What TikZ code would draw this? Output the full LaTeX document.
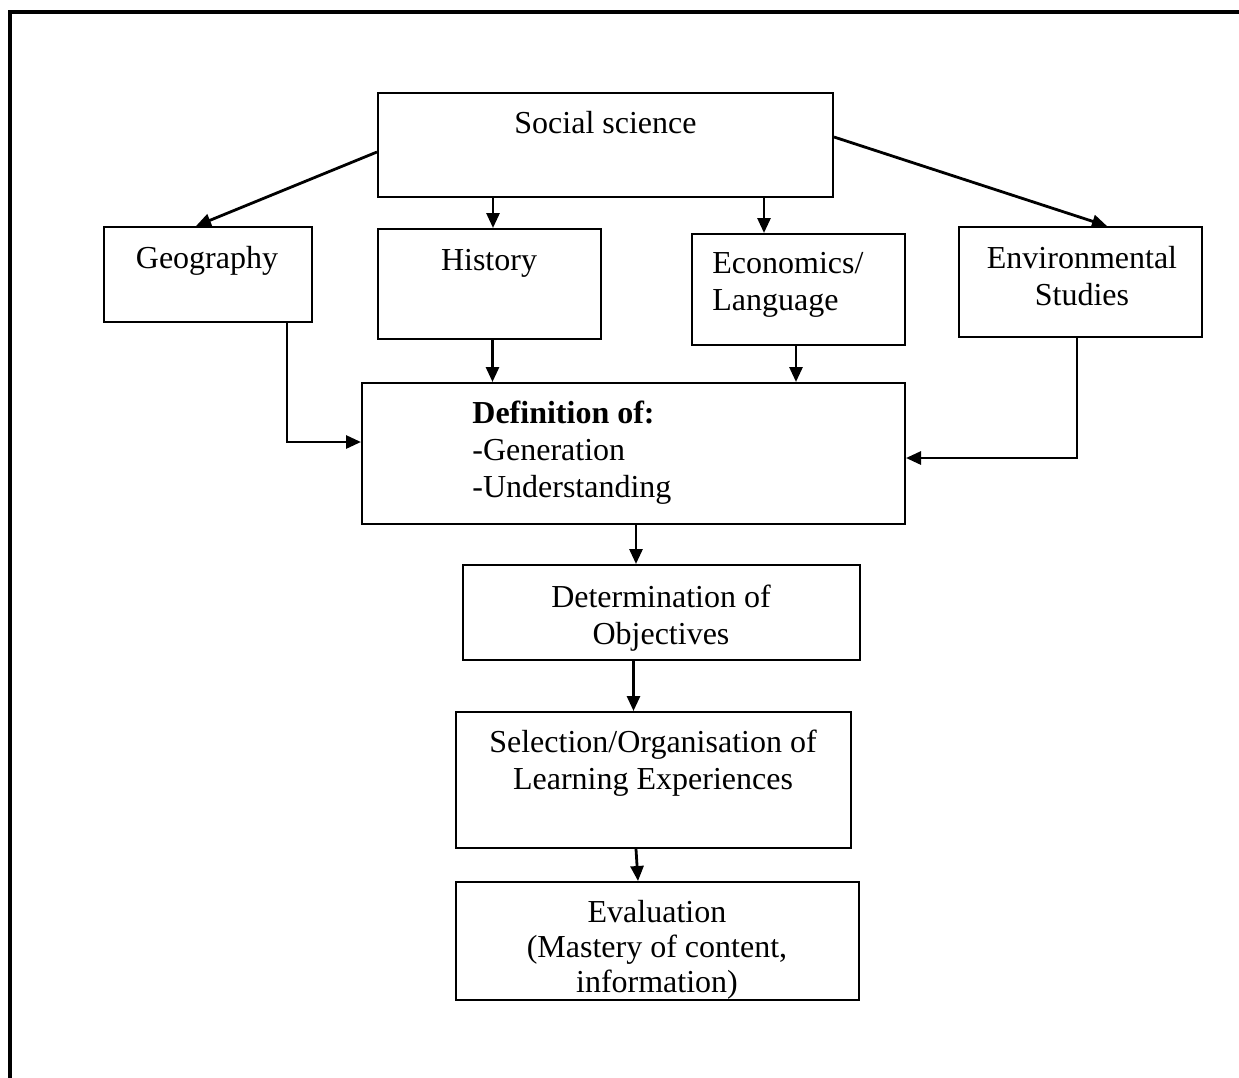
\documentclass[tikz,border=0pt]{standalone}
\usepackage{fontspec}
\setmainfont{Liberation Serif}
\usetikzlibrary{arrows.meta}
\begin{document}
\begin{tikzpicture}[x=0.5pt,y=-0.5pt,
  box/.style={draw,line width=1pt,inner sep=0pt,rectangle},
  txt/.style={inner sep=0pt,anchor=base,font=\fontsize{16}{18}\selectfont},
  ltxt/.style={inner sep=0pt,anchor=base west,font=\fontsize{16}{18}\selectfont},
  arr/.style={line width=1.4pt,-{Triangle[length=7.5pt,width=6.5pt]}},
  frame/.style={line width=2pt}]
\useasboundingbox (0,0) rectangle (1239,1078);
% outer frame (left and top sides only)
\coordinate (fbl) at (9.5,1078);
\coordinate (ftl) at (9.5,12);
\coordinate (ftr) at (1239,12);
\draw[frame] (fbl) -- (ftl) -- (ftr);
% boxes
\node[box,minimum width=227.5pt,minimum height=52pt] (soc) at (605.5,145) {};
\node[box,minimum width=104pt,minimum height=47.5pt] (geo) at (208,274.5) {};
\node[box,minimum width=111.5pt,minimum height=55pt] (his) at (489.5,284) {};
\node[box,minimum width=106.5pt,minimum height=55.5pt] (eco) at (798.5,289.5) {};
\node[box,minimum width=121.5pt,minimum height=55pt] (env) at (1080.5,282) {};
\node[box,minimum width=271.5pt,minimum height=70.5pt] (def) at (633.5,453.5) {};
\node[box,minimum width=198.5pt,minimum height=47.5pt] (det) at (661.5,612.5) {};
\node[box,minimum width=197.5pt,minimum height=68pt] (sel) at (653.5,780) {};
\node[box,minimum width=201.5pt,minimum height=59pt] (eva) at (657.5,941) {};
% texts
\node[txt] (socT) at (605.5,133) {Social science};
\node[txt] (geoT) at (207,268) {Geography};
\node[txt] (hisT) at (489,270) {History};
\node[ltxt] (ecoT1) at (712,273) {Economics/};
\node[ltxt] (ecoT2) at (712,310) {Language};
\node[txt] (envT1) at (1082,268) {Environmental};
\node[txt] (envT2) at (1082,305) {Studies};
\node[ltxt] (defT1) at (472,423) {\bfseries Definition of:};
\node[ltxt] (defT2) at (472,460) {-Generation};
\node[ltxt] (defT3) at (472,497) {-Understanding};
\node[txt] (detT1) at (661,607) {Determination of};
\node[txt] (detT2) at (661,644) {Objectives};
\node[txt] (selT1) at (653,752) {Selection/Organisation of};
\node[txt] (selT2) at (653,789) {Learning Experiences};
\node[txt] (evaT1) at (657,922) {Evaluation};
\node[txt] (evaT2) at (657,957) {(Mastery of content,};
\node[txt] (evaT3) at (657,992) {information)};
% connectors
\draw[arr] ([yshift=-3.5pt]soc.west) -- ([xshift=-6pt]geo.north);
\draw[arr] ([yshift=4pt]soc.east) -- ([xshift=13.25pt]env.north);
\draw[arr] ([xshift=1.75pt]his.north |- soc.south) -- ([xshift=1.75pt]his.north);
\draw[arr] ([xshift=-17.25pt]eco.north |- soc.south) -- ([xshift=-17.25pt]eco.north);
\coordinate (g1) at (287,442);
\draw[arr] (geo.south -| g1) -- (g1) -- (def.west |- g1);
\coordinate (e1) at (1077,458);
\draw[arr] (env.south -| e1) -- (e1) -- (def.east |- e1);
\draw[arr] ([xshift=1.5pt]his.south) -- ([xshift=1.5pt]his.south |- def.north);
\draw[arr] ([xshift=-1.25pt]eco.south) -- ([xshift=-1.25pt]eco.south |- def.north);
\draw[arr] ([xshift=1.25pt]def.south) -- ([xshift=1.25pt]def.south |- det.north);
\draw[arr] (def.south |- det.south) -- (def.south |- sel.north);
\draw[arr] ([xshift=-8.75pt]sel.south) -- ([xshift=-9.75pt]eva.north);
\end{tikzpicture}
\end{document}
